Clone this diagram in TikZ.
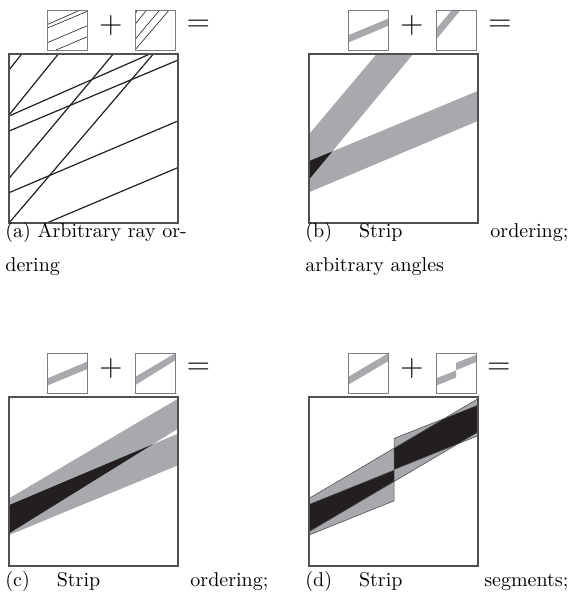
\documentclass[tikz,border=0pt]{standalone}
\usepackage{fontspec}
\usepackage{tikz}

\definecolor{stripgray}{RGB}{167,169,172}
\definecolor{inkblack}{RGB}{35,31,32}
\definecolor{framegray}{RGB}{80,80,82}
\definecolor{icongray}{RGB}{125,125,128}

\tikzset{
  bigframe/.style={draw=framegray, line width=0.75pt},
  iconframe/.style={draw=icongray, line width=0.45pt},
  ray/.style={draw=inkblack, line width=0.6pt},
  iconrays/.style={ray/.append style={line width=0.3pt}},
  strip/.style={fill=stripgray},
  overlap/.style={fill=inkblack},
  edgeline/.style={draw=framegray, line width=0.3pt},
  sign/.style={font=\fontsize{16}{16}\selectfont, inner sep=0pt},
  caption/.style={font=\fontsize{10}{12}\selectfont, inner sep=0pt, anchor=base west},
}

% a unit square of content, placed with its lower left corner at (#2,#3)
\newcommand{\tile}[5][]{%
  \begin{scope}[shift={(#2,#3)}, x=#4, y=#4, #1]
    \clip (0,0) rectangle (1,1);
    #5
  \end{scope}}

% (a) rays
\newcommand{\shallowrays}{%
  \draw[ray] (0,0.633) -- (0.834,1);
  \draw[ray] (0,0.544) -- (1,0.964);
  \draw[ray] (0,0.179) -- (1,0.604);
  \draw[ray] (0.223,0) -- (1,0.328);}
\newcommand{\steeprays}{%
  \draw[ray] (0,0.905) -- (0.075,1);
  \draw[ray] (0,0.639) -- (0.292,1);
  \draw[ray] (0,0.264) -- (0.617,1);
  \draw[ray] (0,0) -- (0.854,1);}

% (b) strips
\newcommand{\stripbflat}{(0,0.182) -- (1,0.604) -- (1,0.782) -- (0,0.366) -- cycle}
\newcommand{\stripbsteep}{(0,0.257) -- (0.616,1) -- (0.4,1) -- (0,0.525) -- cycle}
% (c) strips
\newcommand{\stripcup}{(0,0.193) -- (1,0.813) -- (1,0.990) -- (0,0.400) -- cycle}
\newcommand{\stripclow}{(0,0.183) -- (1,0.596) -- (1,0.783) -- (0,0.360) -- cycle}
% (d) strip and segments
\newcommand{\stripda}{(0,0.203) -- (1,0.793) -- (1,0.990) -- (0,0.400) -- cycle}
\newcommand{\stripdl}{(0,0.183) -- (0.504,0.386) -- (0.504,0.567) -- (0,0.364) -- cycle}
\newcommand{\stripdr}{(0.504,0.571) -- (1,0.771) -- (1,0.952) -- (0.504,0.755) -- cycle}

\begin{document}
\begin{tikzpicture}[x=0.5pt, y=-0.5pt]
  \useasboundingbox (0,0) rectangle (574,598);

  %% (a) arbitrary ray ordering
  \tile[iconrays]{47}{50}{20pt}{\shallowrays}
  \tile[iconrays]{135}{50}{20pt}{\steeprays}
  \tile{9}{223}{84.5pt}{\shallowrays \steeprays}
  \draw[iconframe] (47,10) rectangle (87,50);
  \draw[iconframe] (135,10) rectangle (175,50);
  \draw[bigframe] (9,54) rectangle (178,223);
  \node[sign] (plusa) at (111,26) {+};
  \node[sign] (equa) at (198.5,26) {=};
  \node[caption] (capa) at (5,238) {(a) Arbitrary ray or-};
  \node[caption] (capaa) at (5,271) {dering};

  %% (b) strip ordering, arbitrary angles
  \tile{348}{50}{20pt}{\fill[strip] \stripbflat;}
  \tile{436}{50}{20pt}{\fill[strip] \stripbsteep;}
  \tile{309}{223}{84.5pt}{%
    \fill[strip] \stripbflat;
    \fill[strip] \stripbsteep;
    \begin{scope}
      \clip \stripbflat;
      \fill[overlap] \stripbsteep;
    \end{scope}}
  \draw[iconframe] (348,10) rectangle (388,50);
  \draw[iconframe] (436,10) rectangle (476,50);
  \draw[bigframe] (309,54) rectangle (478,223);
  \node[sign] (plusb) at (412,26) {+};
  \node[sign] (equb) at (500,26) {=};
  \node[caption] (capb) at (305,238)
    {\makebox[131.5pt][l]{(b)\hspace{13.5pt}Strip\hfill ordering;}};
  \node[caption] (capbb) at (305,271) {arbitrary angles};

  %% (c) strip ordering
  \tile{47}{393}{20pt}{\fill[strip] \stripclow;}
  \tile{135}{393}{20pt}{\fill[strip] \stripcup;}
  \tile{9}{566}{84.5pt}{%
    \fill[strip] \stripcup;
    \fill[strip] \stripclow;
    \begin{scope}
      \clip \stripcup;
      \fill[overlap] \stripclow;
    \end{scope}}
  \draw[iconframe] (47,353) rectangle (87,393);
  \draw[iconframe] (135,353) rectangle (175,393);
  \draw[bigframe] (9,397) rectangle (178,566);
  \node[sign] (plusc) at (111,369) {+};
  \node[sign] (equc) at (198.5,369) {=};
  \node[caption] (capc) at (5,586)
    {\makebox[131.5pt][l]{(c)\hspace{13.5pt}Strip\hfill ordering;}};

  %% (d) strip segments
  \tile{348}{393}{20pt}{\fill[strip] \stripda;}
  \tile{436}{393}{20pt}{\fill[strip] \stripdl; \fill[strip] \stripdr;}
  \tile{309}{566}{84.5pt}{%
    \fill[strip] \stripda;
    \fill[strip] \stripdl;
    \fill[strip] \stripdr;
    \begin{scope}
      \clip \stripda;
      \fill[overlap] \stripdl;
      \fill[overlap] \stripdr;
    \end{scope}
    \draw[edgeline] \stripda;
    \draw[edgeline] \stripdl;
    \draw[edgeline] \stripdr;}
  \draw[iconframe] (348,353) rectangle (388,393);
  \draw[iconframe] (436,353) rectangle (476,393);
  \draw[bigframe] (309,397) rectangle (478,566);
  \node[sign] (plusd) at (412,369) {+};
  \node[sign] (equd) at (499,369) {=};
  \node[caption] (capd) at (305,586)
    {\makebox[131.5pt][l]{(d)\hspace{13.5pt}Strip\hfill segments;}};
\end{tikzpicture}
\end{document}
